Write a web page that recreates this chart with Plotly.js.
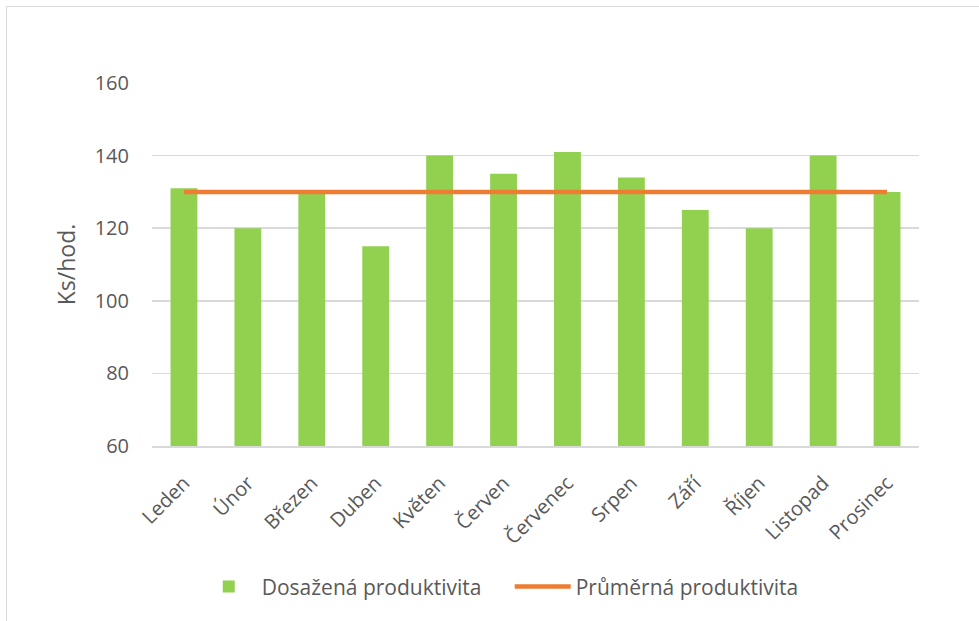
<!DOCTYPE html>
<html>
<head>
<meta charset="utf-8">
<script src="https://cdn.plot.ly/plotly-3.0.1.min.js"></script>
<style>
  html, body { margin: 0; padding: 0; background: #ffffff; width: 979px; height: 621px; overflow: hidden; }
  #frame { position: absolute; left: 6px; top: 6px; width: 1100px; height: 800px; border: 1.5px solid #d9d9d9; box-sizing: border-box; }
  #chart { position: absolute; left: 0; top: 0; width: 979px; height: 621px; }
</style>
</head>
<body>
<div id="frame"></div>
<div id="chart"></div>
<script>
const months = ["Leden", "Únor", "Březen", "Duben", "Květen", "Červen", "Červenec", "Srpen", "Září", "Říjen", "Listopad", "Prosinec"];
const achieved = [131, 120, 130, 115, 140, 135, 141, 134, 125, 120, 140, 130];
const average = [130, 130, 130, 130, 130, 130, 130, 130, 130, 130, 130, 130];
const yTicks = [60, 80, 100, 120, 140, 160];

const textColor = "#595959";
const gridColor = "#d9d9d9";
const fontFam = "Open Sans, Noto Sans, sans-serif";

const traces = [
  {
    type: "bar",
    name: "Dosažená produktivita",
    x: months,
    y: achieved,
    marker: { color: "#92D050" },
    hoverinfo: "x+y"
  },
  {
    type: "scatter",
    mode: "lines",
    name: "Průměrná produktivita",
    x: months,
    y: average,
    line: { color: "#ED7D31", width: 4.5 }
  }
];

const layout = {
  width: 979,
  height: 621,
  paper_bgcolor: "rgba(0,0,0,0)",
  plot_bgcolor: "rgba(0,0,0,0)",
  margin: { l: 152, r: 60, t: 83, b: 175 },
  bargap: 0.58,
  font: { family: fontFam, color: textColor, size: 20 },
  showlegend: true,
  legend: {
    orientation: "h",
    x: 0.057,
    xanchor: "left",
    y: -0.388,
    yanchor: "middle",
    font: { family: fontFam, size: 21, color: textColor },
    itemwidth: 56,
    entrywidth: 243,
    tracegroupgap: 0
  },
  xaxis: {
    type: "category",
    tickangle: -45,
    showgrid: false,
    showline: true,
    linecolor: gridColor,
    linewidth: 1.5,
    ticks: "",
    ticklabelstandoff: 16,
    tickfont: { family: fontFam, size: 20, color: textColor },
    automargin: false
  },
  yaxis: {
    range: [60, 160],
    tickvals: yTicks,
    ticktext: yTicks.map(String),
    showgrid: true,
    gridcolor: gridColor,
    gridwidth: 1.5,
    zeroline: false,
    showline: false,
    ticks: "",
    ticklabelstandoff: 22,
    tickfont: { family: fontFam, size: 20, color: textColor },
    title: { text: "Ks/hod.", font: { family: fontFam, size: 23, color: textColor }, standoff: 12 },
    automargin: false
  }
};

Plotly.newPlot("chart", traces, layout, { displayModeBar: false, staticPlot: true });
</script>
</body>
</html>
